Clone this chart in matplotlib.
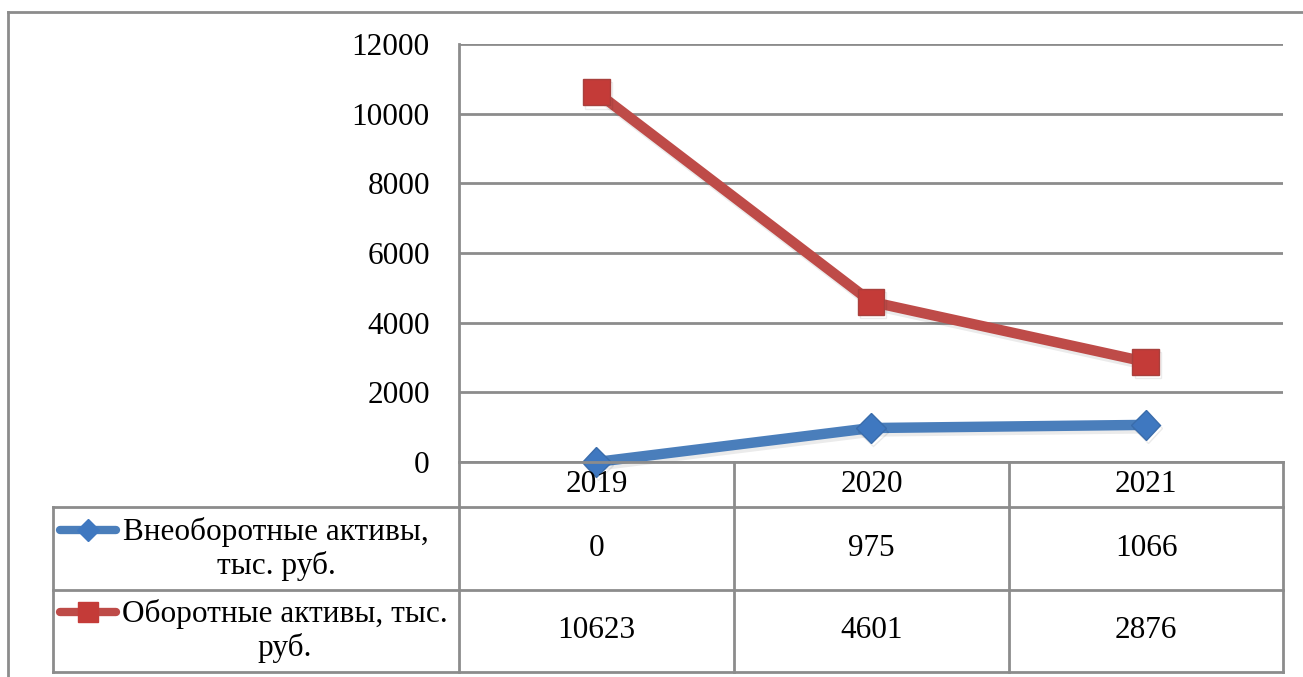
import matplotlib
matplotlib.use("Agg")
import matplotlib.pyplot as plt
from matplotlib.lines import Line2D
from matplotlib import font_manager
import matplotlib.patheffects as pe

years = ["2019", "2020", "2021"]
vneoborotnye = [0, 975, 1066]
oborotnye = [10623, 4601, 2876]
series_names = ["Внеоборотные активы,\nтыс. руб.", "Оборотные активы, тыс.\nруб."]
yticks = [0, 2000, 4000, 6000, 8000, 10000, 12000]

W, H = 1303, 677
BLUE = "#4A7EBB"
RED = "#BE4B48"
GRID = "#8C8C8C"

installed = {f.name for f in font_manager.fontManager.ttflist}
serif = [f for f in ["Liberation Serif", "Times New Roman", "DejaVu Serif"] if f in installed]
print("serif fonts:", serif)
plt.rcParams["font.family"] = serif + ["DejaVu Sans"]
FS = 22.5


def fx(px):
    return px / W


def fy(py):
    return 1 - py / H


fig = plt.figure(figsize=(W / 100, H / 100), dpi=100)

# plot area geometry in pixels
left, right, top, bottom = 459, 1283, 44, 462
ax = fig.add_axes([fx(left), fy(bottom), fx(right - left), (bottom - top) / H])
ax.set_xlim(-0.5, 2.5)
ax.set_ylim(0, 12000)
ax.set_yticks(yticks)
ax.set_yticklabels([str(t) for t in yticks], fontsize=FS)
ax.tick_params(axis="y", length=0, pad=21)
ax.set_xticks([])
for s in ax.spines.values():
    s.set_visible(False)
ax.grid(axis="y", color=GRID, linewidth=2)
ax.set_axisbelow(True)

shadow = [pe.SimpleLineShadow(offset=(1.5, -2.5), alpha=0.08, shadow_color="black"), pe.Normal()]
x = list(range(len(years)))
ax.plot(x, vneoborotnye, color=BLUE, lw=7.5, marker="D", markersize=15,
        markerfacecolor="#3F78C0", markeredgecolor="#3A6CAB", markeredgewidth=1,
        solid_joinstyle="round", solid_capstyle="round", path_effects=shadow, clip_on=False, zorder=3)
ax.plot(x, oborotnye, color=RED, lw=7.5, marker="s", markersize=19,
        markerfacecolor="#C43B38", markeredgecolor="#A8403D", markeredgewidth=1,
        solid_joinstyle="round", solid_capstyle="round", path_effects=shadow, clip_on=False, zorder=4)


def hline(x0, x1, y):
    fig.add_artist(Line2D([fx(x0), fx(x1)], [fy(y), fy(y)], color=GRID, lw=2))


def vline(x, y0, y1):
    fig.add_artist(Line2D([fx(x), fx(x)], [fy(y0), fy(y1)], color=GRID, lw=2))


# outer frame
hline(8, W, 12)
vline(8, 12, H)

# data table below the axis
col_edges = [459, 734, 1009, 1283]
label_left = 53
rows = [462, 507, 590, 672]
vline(left, top, rows[-1])
for xe in col_edges[1:]:
    vline(xe, rows[0], rows[-1])
vline(label_left, rows[1], rows[-1])
hline(left, right, rows[0])
for ry in rows[1:]:
    hline(label_left, right, ry)

centers = [(col_edges[i] + col_edges[i + 1]) / 2 for i in range(3)]
for cx, yr in zip(centers, years):
    fig.text(fx(cx), fy(485), yr, ha="center", va="center", fontsize=FS)

table_rows = [vneoborotnye, oborotnye]
row_mid = [549, 631]
for vals, ym in zip(table_rows, row_mid):
    for cx, v in zip(centers, vals):
        fig.text(fx(cx), fy(ym), str(v), ha="center", va="center", fontsize=FS)

# legend keys and series names in the first column
key_styles = [(BLUE, "D", 11, "#3F78C0"), (RED, "s", 14, "#C43B38")]
text_cx = [276, 285]
key_y = [530, 612]
for name, (col, mk, ms, mfc), tcx, ky, ym in zip(series_names, key_styles, text_cx, key_y, row_mid):
    fig.add_artist(Line2D([fx(60), fx(116)], [fy(ky), fy(ky)], color=col, lw=6,
                          solid_capstyle="round"))
    fig.add_artist(Line2D([fx(88)], [fy(ky)], marker=mk, markersize=ms, color=col,
                          markerfacecolor=mfc, markeredgecolor=mfc))
    fig.text(fx(tcx), fy(ym), name, ha="center", va="center", fontsize=FS,
             multialignment="center", linespacing=1.15)

fig.savefig("out.png", dpi=100)
